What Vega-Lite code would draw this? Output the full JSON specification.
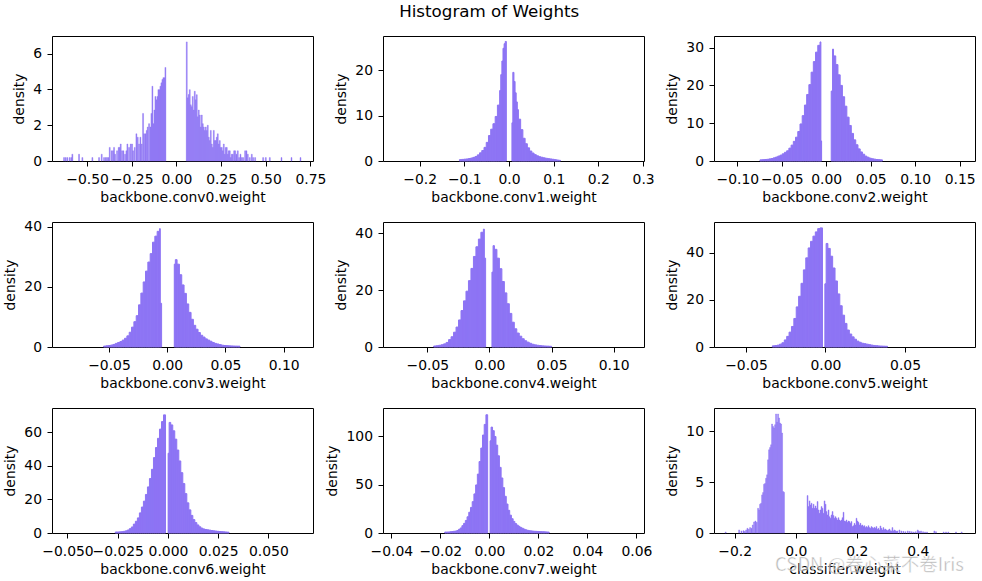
{
  "$schema": "https://vega.github.io/schema/vega-lite/v6.json",
  "background": "white",
  "padding": {"left": 2, "top": 4, "right": 5, "bottom": 5},
  "title": {"text": "Histogram of Weights", "anchor": "middle", "fontSize": 16.7, "fontWeight": "normal", "color": "#000000", "font": "DejaVu Sans", "offset": 14.5},
  "columns": 3,
  "bounds": "flush",
  "spacing": {"row": 61, "column": 70},
  "datasets": {
    "c0": [
      {"x0":-0.6314,"x1":-0.6260,"y":0.19},{"x0":-0.6221,"x1":-0.6167,"y":0.19},{"x0":-0.6128,"x1":-0.6074,"y":0.19},{"x0":-0.5997,"x1":-0.5943,"y":0.19},{"x0":-0.5904,"x1":-0.5850,"y":0.19},{"x0":-0.5848,"x1":-0.5794,"y":0.38},{"x0":-0.5475,"x1":-0.5421,"y":0.38},{"x0":-0.5288,"x1":-0.5234,"y":0.19},{"x0":-0.4728,"x1":-0.4674,"y":0.19},{"x0":-0.4355,"x1":-0.4301,"y":0.19},{"x0":-0.4206,"x1":-0.4152,"y":0.38},{"x0":-0.4076,"x1":-0.4022,"y":0.19},{"x0":-0.3982,"x1":-0.3928,"y":0.19},{"x0":-0.3908,"x1":-0.3854,"y":0.19},{"x0":-0.3833,"x1":-0.3779,"y":0.19},{"x0":-0.3758,"x1":-0.3704,"y":0.76},{"x0":-0.3646,"x1":-0.3592,"y":0.57},{"x0":-0.3572,"x1":-0.3518,"y":0.57},{"x0":-0.3516,"x1":-0.3462,"y":0.76},{"x0":-0.3460,"x1":-0.3406,"y":0.38},{"x0":-0.3348,"x1":-0.3294,"y":0.57},{"x0":-0.3255,"x1":-0.3201,"y":0.76},{"x0":-0.3199,"x1":-0.3145,"y":0.76},{"x0":-0.3143,"x1":-0.3089,"y":0.95},{"x0":-0.3068,"x1":-0.3014,"y":0.57},{"x0":-0.2993,"x1":-0.2939,"y":0.57},{"x0":-0.2900,"x1":-0.2846,"y":0.38},{"x0":-0.2826,"x1":-0.2772,"y":0.57},{"x0":-0.2770,"x1":-0.2716,"y":0.95},{"x0":-0.2676,"x1":-0.2622,"y":0.76},{"x0":-0.2583,"x1":-0.2529,"y":0.95},{"x0":-0.2508,"x1":-0.2454,"y":0.95},{"x0":-0.2452,"x1":-0.2398,"y":0.57},{"x0":-0.2359,"x1":-0.2305,"y":0.76},{"x0":-0.2266,"x1":-0.2212,"y":1.52},{"x0":-0.2191,"x1":-0.2137,"y":1.33},{"x0":-0.2117,"x1":-0.2063,"y":0.95},{"x0":-0.2042,"x1":-0.1988,"y":1.33},{"x0":-0.1967,"x1":-0.1913,"y":0.95},{"x0":-0.1893,"x1":-0.1839,"y":2.66},{"x0":-0.1837,"x1":-0.1783,"y":1.52},{"x0":-0.1762,"x1":-0.1708,"y":1.52},{"x0":-0.1687,"x1":-0.1633,"y":1.71},{"x0":-0.1631,"x1":-0.1577,"y":1.90},{"x0":-0.1557,"x1":-0.1503,"y":2.09},{"x0":-0.1482,"x1":-0.1428,"y":1.90},{"x0":-0.1426,"x1":-0.1372,"y":2.66},{"x0":-0.1370,"x1":-0.1316,"y":4.18},{"x0":-0.1314,"x1":-0.1260,"y":2.09},{"x0":-0.1258,"x1":-0.1204,"y":2.85},{"x0":-0.1202,"x1":-0.1148,"y":3.61},{"x0":-0.1146,"x1":-0.1092,"y":3.42},{"x0":-0.1090,"x1":-0.1036,"y":3.61},{"x0":-0.1034,"x1":-0.0980,"y":3.99},{"x0":-0.0978,"x1":-0.0924,"y":3.99},{"x0":-0.0923,"x1":-0.0869,"y":4.18},{"x0":-0.0867,"x1":-0.0813,"y":4.37},{"x0":-0.0811,"x1":-0.0757,"y":4.56},{"x0":-0.0755,"x1":-0.0701,"y":4.66},{"x0":-0.0699,"x1":-0.0645,"y":4.66},{"x0":-0.0643,"x1":-0.0589,"y":5.23},
      {"x0":0.0551,"x1":0.0605,"y":6.66},{"x0":0.0607,"x1":0.0661,"y":3.53},{"x0":0.0663,"x1":0.0717,"y":3.72},{"x0":0.0719,"x1":0.0773,"y":3.99},{"x0":0.0775,"x1":0.0829,"y":3.14},{"x0":0.0831,"x1":0.0885,"y":3.04},{"x0":0.0887,"x1":0.0941,"y":3.61},{"x0":0.0943,"x1":0.0997,"y":2.85},{"x0":0.0999,"x1":0.1053,"y":3.90},{"x0":0.1055,"x1":0.1109,"y":3.42},{"x0":0.1111,"x1":0.1165,"y":3.71},{"x0":0.1167,"x1":0.1221,"y":2.47},{"x0":0.1223,"x1":0.1277,"y":2.85},{"x0":0.1279,"x1":0.1333,"y":2.57},{"x0":0.1335,"x1":0.1389,"y":1.90},{"x0":0.1391,"x1":0.1445,"y":2.57},{"x0":0.1447,"x1":0.1501,"y":2.09},{"x0":0.1503,"x1":0.1557,"y":1.90},{"x0":0.1559,"x1":0.1613,"y":1.71},{"x0":0.1615,"x1":0.1669,"y":1.90},{"x0":0.1671,"x1":0.1725,"y":1.71},{"x0":0.1727,"x1":0.1781,"y":2.00},{"x0":0.1783,"x1":0.1837,"y":1.33},{"x0":0.1839,"x1":0.1893,"y":1.14},{"x0":0.1895,"x1":0.1949,"y":1.71},{"x0":0.1951,"x1":0.2005,"y":0.95},{"x0":0.2007,"x1":0.2061,"y":0.76},{"x0":0.2063,"x1":0.2117,"y":1.71},{"x0":0.2119,"x1":0.2173,"y":1.14},{"x0":0.2174,"x1":0.2228,"y":1.14},{"x0":0.2230,"x1":0.2284,"y":1.33},{"x0":0.2286,"x1":0.2340,"y":1.52},{"x0":0.2342,"x1":0.2396,"y":0.95},{"x0":0.2398,"x1":0.2452,"y":1.14},{"x0":0.2454,"x1":0.2508,"y":0.76},{"x0":0.2510,"x1":0.2564,"y":0.76},{"x0":0.2566,"x1":0.2620,"y":0.57},{"x0":0.2622,"x1":0.2676,"y":0.95},{"x0":0.2678,"x1":0.2732,"y":0.38},{"x0":0.2734,"x1":0.2788,"y":0.76},{"x0":0.2790,"x1":0.2844,"y":0.76},{"x0":0.2846,"x1":0.2900,"y":0.38},{"x0":0.2902,"x1":0.2956,"y":0.57},{"x0":0.2958,"x1":0.3012,"y":0.57},{"x0":0.3014,"x1":0.3068,"y":0.19},{"x0":0.3070,"x1":0.3124,"y":0.38},{"x0":0.3126,"x1":0.3180,"y":0.38},{"x0":0.3201,"x1":0.3255,"y":0.57},{"x0":0.3257,"x1":0.3311,"y":0.57},{"x0":0.3331,"x1":0.3385,"y":0.38},{"x0":0.3406,"x1":0.3460,"y":0.57},{"x0":0.3480,"x1":0.3534,"y":0.19},{"x0":0.3555,"x1":0.3609,"y":0.38},{"x0":0.3630,"x1":0.3684,"y":0.19},{"x0":0.3704,"x1":0.3758,"y":0.19},{"x0":0.3816,"x1":0.3870,"y":0.57},{"x0":0.3891,"x1":0.3945,"y":0.57},{"x0":0.3966,"x1":0.4020,"y":0.38},{"x0":0.4077,"x1":0.4131,"y":0.19},{"x0":0.4189,"x1":0.4243,"y":0.38},{"x0":0.4264,"x1":0.4318,"y":0.19},{"x0":0.4376,"x1":0.4430,"y":0.19},{"x0":0.4824,"x1":0.4878,"y":0.19},{"x0":0.4973,"x1":0.5027,"y":0.19},{"x0":0.5197,"x1":0.5251,"y":0.19},{"x0":0.5850,"x1":0.5904,"y":0.19},{"x0":0.6410,"x1":0.6464,"y":0.19},{"x0":0.6913,"x1":0.6967,"y":0.19}
    ],
    "c1": [
      {"x0":-0.111,"x1":-0.106,"y":0.3},{"x0":-0.106,"x1":-0.101,"y":0.35},{"x0":-0.101,"x1":-0.096,"y":0.4},{"x0":-0.096,"x1":-0.091,"y":0.45},{"x0":-0.091,"x1":-0.086,"y":0.55},{"x0":-0.086,"x1":-0.081,"y":0.65},{"x0":-0.081,"x1":-0.076,"y":0.8},{"x0":-0.076,"x1":-0.071,"y":1.0},{"x0":-0.071,"x1":-0.066,"y":1.35},{"x0":-0.066,"x1":-0.061,"y":1.8},{"x0":-0.061,"x1":-0.056,"y":2.3},{"x0":-0.056,"x1":-0.051,"y":3.0},{"x0":-0.051,"x1":-0.046,"y":4.1},{"x0":-0.046,"x1":-0.041,"y":5.6},{"x0":-0.041,"x1":-0.036,"y":7.0},{"x0":-0.036,"x1":-0.031,"y":8.2},{"x0":-0.031,"x1":-0.026,"y":9.8},{"x0":-0.026,"x1":-0.021,"y":12.3},{"x0":-0.021,"x1":-0.0185,"y":15.5},{"x0":-0.0185,"x1":-0.016,"y":19.0},{"x0":-0.016,"x1":-0.0135,"y":22.0},{"x0":-0.0135,"x1":-0.011,"y":24.8},{"x0":-0.011,"x1":-0.0085,"y":25.8},{"x0":-0.0085,"x1":-0.006,"y":26.3},
      {"x0":0.0065,"x1":0.0085,"y":8.4},{"x0":0.0085,"x1":0.011,"y":19.5},{"x0":0.011,"x1":0.0135,"y":17.5},{"x0":0.0135,"x1":0.016,"y":15.0},{"x0":0.016,"x1":0.0185,"y":13.0},{"x0":0.0185,"x1":0.021,"y":11.3},{"x0":0.021,"x1":0.026,"y":9.2},{"x0":0.026,"x1":0.031,"y":6.9},{"x0":0.031,"x1":0.036,"y":5.0},{"x0":0.036,"x1":0.041,"y":3.8},{"x0":0.041,"x1":0.046,"y":2.9},{"x0":0.046,"x1":0.051,"y":2.2},{"x0":0.051,"x1":0.056,"y":1.75},{"x0":0.056,"x1":0.061,"y":1.4},{"x0":0.061,"x1":0.066,"y":1.15},{"x0":0.066,"x1":0.071,"y":0.95},{"x0":0.071,"x1":0.076,"y":0.82},{"x0":0.076,"x1":0.081,"y":0.7},{"x0":0.081,"x1":0.086,"y":0.6},{"x0":0.086,"x1":0.091,"y":0.52},{"x0":0.091,"x1":0.096,"y":0.45},{"x0":0.096,"x1":0.101,"y":0.38},{"x0":0.101,"x1":0.106,"y":0.3},{"x0":0.106,"x1":0.111,"y":0.22},{"x0":0.111,"x1":0.115,"y":0.15}
    ],
    "c2": [
      {"x0":-0.0745,"x1":-0.0720,"y":0.3},{"x0":-0.0720,"x1":-0.0695,"y":0.35},{"x0":-0.0695,"x1":-0.0670,"y":0.4},{"x0":-0.0670,"x1":-0.0645,"y":0.45},{"x0":-0.0645,"x1":-0.0620,"y":0.55},{"x0":-0.0620,"x1":-0.0595,"y":0.65},{"x0":-0.0595,"x1":-0.0570,"y":0.85},{"x0":-0.0570,"x1":-0.0545,"y":1.05},{"x0":-0.0545,"x1":-0.0520,"y":1.3},{"x0":-0.0520,"x1":-0.0495,"y":1.55},{"x0":-0.0495,"x1":-0.0470,"y":1.9},{"x0":-0.0470,"x1":-0.0445,"y":2.3},{"x0":-0.0445,"x1":-0.0420,"y":2.7},{"x0":-0.0420,"x1":-0.0395,"y":3.4},{"x0":-0.0395,"x1":-0.0370,"y":4.2},{"x0":-0.0370,"x1":-0.0345,"y":5.2},{"x0":-0.0345,"x1":-0.0320,"y":6.3},{"x0":-0.0320,"x1":-0.0295,"y":7.8},{"x0":-0.0295,"x1":-0.0270,"y":9.8},{"x0":-0.0270,"x1":-0.0245,"y":12.0},{"x0":-0.0245,"x1":-0.0220,"y":14.8},{"x0":-0.0220,"x1":-0.0195,"y":17.6},{"x0":-0.0195,"x1":-0.0170,"y":20.2},{"x0":-0.0170,"x1":-0.0145,"y":23.5},{"x0":-0.0145,"x1":-0.0120,"y":26.3},{"x0":-0.0120,"x1":-0.0095,"y":28.8},{"x0":-0.0095,"x1":-0.0070,"y":30.6},{"x0":-0.0070,"x1":-0.0060,"y":31.5},{"x0":-0.0060,"x1":-0.0052,"y":5.3},
      {"x0":0.0056,"x1":0.0071,"y":18.5},{"x0":0.0071,"x1":0.0082,"y":29.6},{"x0":0.0082,"x1":0.0107,"y":27.8},{"x0":0.0107,"x1":0.0132,"y":25.5},{"x0":0.0132,"x1":0.0157,"y":22.8},{"x0":0.0157,"x1":0.0182,"y":20.0},{"x0":0.0182,"x1":0.0207,"y":17.0},{"x0":0.0207,"x1":0.0232,"y":14.5},{"x0":0.0232,"x1":0.0257,"y":11.6},{"x0":0.0257,"x1":0.0282,"y":9.4},{"x0":0.0282,"x1":0.0307,"y":7.3},{"x0":0.0307,"x1":0.0332,"y":5.6},{"x0":0.0332,"x1":0.0357,"y":4.3},{"x0":0.0357,"x1":0.0382,"y":3.2},{"x0":0.0382,"x1":0.0407,"y":2.4},{"x0":0.0407,"x1":0.0432,"y":1.8},{"x0":0.0432,"x1":0.0457,"y":1.3},{"x0":0.0457,"x1":0.0482,"y":1.0},{"x0":0.0482,"x1":0.0507,"y":0.75},{"x0":0.0507,"x1":0.0532,"y":0.6},{"x0":0.0532,"x1":0.0557,"y":0.5},{"x0":0.0557,"x1":0.0582,"y":0.4},{"x0":0.0582,"x1":0.0607,"y":0.35},{"x0":0.0607,"x1":0.0632,"y":0.3}
    ],
    "c3": [
      {"x0":-0.0546,"x1":-0.0526,"y":0.3},{"x0":-0.0526,"x1":-0.0506,"y":0.4},{"x0":-0.0506,"x1":-0.0486,"y":0.5},{"x0":-0.0486,"x1":-0.0466,"y":0.65},{"x0":-0.0466,"x1":-0.0446,"y":0.85},{"x0":-0.0446,"x1":-0.0426,"y":1.2},{"x0":-0.0426,"x1":-0.0406,"y":1.5},{"x0":-0.0406,"x1":-0.0386,"y":1.8},{"x0":-0.0386,"x1":-0.0366,"y":2.3},{"x0":-0.0366,"x1":-0.0346,"y":2.9},{"x0":-0.0346,"x1":-0.0326,"y":3.7},{"x0":-0.0326,"x1":-0.0306,"y":4.9},{"x0":-0.0306,"x1":-0.0286,"y":6.6},{"x0":-0.0286,"x1":-0.0266,"y":8.4},{"x0":-0.0266,"x1":-0.0246,"y":10.4},{"x0":-0.0246,"x1":-0.0226,"y":14.0},{"x0":-0.0226,"x1":-0.0206,"y":17.9},{"x0":-0.0206,"x1":-0.0186,"y":21.6},{"x0":-0.0186,"x1":-0.0166,"y":25.2},{"x0":-0.0166,"x1":-0.0146,"y":28.2},{"x0":-0.0146,"x1":-0.0126,"y":31.0},{"x0":-0.0126,"x1":-0.0106,"y":34.8},{"x0":-0.0106,"x1":-0.0086,"y":36.8},{"x0":-0.0086,"x1":-0.0066,"y":38.4},{"x0":-0.0066,"x1":-0.0059,"y":39.3},{"x0":-0.0059,"x1":-0.0048,"y":14.5},
      {"x0":0.0061,"x1":0.0070,"y":27.5},{"x0":0.0070,"x1":0.0085,"y":29.0},{"x0":0.0085,"x1":0.0105,"y":27.5},{"x0":0.0105,"x1":0.0125,"y":24.0},{"x0":0.0125,"x1":0.0145,"y":20.6},{"x0":0.0145,"x1":0.0165,"y":17.8},{"x0":0.0165,"x1":0.0185,"y":14.3},{"x0":0.0185,"x1":0.0205,"y":11.5},{"x0":0.0205,"x1":0.0225,"y":9.2},{"x0":0.0225,"x1":0.0245,"y":7.2},{"x0":0.0245,"x1":0.0265,"y":5.9},{"x0":0.0265,"x1":0.0285,"y":4.8},{"x0":0.0285,"x1":0.0305,"y":3.9},{"x0":0.0305,"x1":0.0325,"y":3.3},{"x0":0.0325,"x1":0.0345,"y":2.7},{"x0":0.0345,"x1":0.0365,"y":2.3},{"x0":0.0365,"x1":0.0385,"y":1.9},{"x0":0.0385,"x1":0.0405,"y":1.5},{"x0":0.0405,"x1":0.0425,"y":1.2},{"x0":0.0425,"x1":0.0445,"y":1.0},{"x0":0.0445,"x1":0.0465,"y":0.8},{"x0":0.0465,"x1":0.0485,"y":0.6},{"x0":0.0485,"x1":0.0505,"y":0.5},{"x0":0.0505,"x1":0.0525,"y":0.45},{"x0":0.0525,"x1":0.0545,"y":0.4},{"x0":0.0545,"x1":0.0565,"y":0.35},{"x0":0.0565,"x1":0.0585,"y":0.32},{"x0":0.0585,"x1":0.0605,"y":0.3},{"x0":0.0605,"x1":0.0625,"y":0.28}
    ],
    "c4": [
      {"x0":-0.0449,"x1":-0.0429,"y":0.35},{"x0":-0.0429,"x1":-0.0409,"y":0.45},{"x0":-0.0409,"x1":-0.0389,"y":0.6},{"x0":-0.0389,"x1":-0.0369,"y":0.8},{"x0":-0.0369,"x1":-0.0349,"y":1.1},{"x0":-0.0349,"x1":-0.0329,"y":1.6},{"x0":-0.0329,"x1":-0.0309,"y":2.6},{"x0":-0.0309,"x1":-0.0289,"y":3.6},{"x0":-0.0289,"x1":-0.0269,"y":5.2},{"x0":-0.0269,"x1":-0.0249,"y":7.0},{"x0":-0.0249,"x1":-0.0229,"y":9.5},{"x0":-0.0229,"x1":-0.0209,"y":12.8},{"x0":-0.0209,"x1":-0.0189,"y":16.2},{"x0":-0.0189,"x1":-0.0169,"y":19.6},{"x0":-0.0169,"x1":-0.0149,"y":23.3},{"x0":-0.0149,"x1":-0.0129,"y":27.6},{"x0":-0.0129,"x1":-0.0109,"y":31.8},{"x0":-0.0109,"x1":-0.0089,"y":35.2},{"x0":-0.0089,"x1":-0.0069,"y":37.9},{"x0":-0.0069,"x1":-0.0049,"y":40.3},{"x0":-0.0049,"x1":-0.0041,"y":41.4},{"x0":-0.0041,"x1":-0.0031,"y":31.2},
      {"x0":0.0020,"x1":0.0029,"y":26.3},{"x0":0.0029,"x1":0.0040,"y":35.6},{"x0":0.0040,"x1":0.0060,"y":34.3},{"x0":0.0060,"x1":0.0080,"y":31.2},{"x0":0.0080,"x1":0.0100,"y":27.5},{"x0":0.0100,"x1":0.0120,"y":23.0},{"x0":0.0120,"x1":0.0140,"y":19.0},{"x0":0.0140,"x1":0.0160,"y":15.2},{"x0":0.0160,"x1":0.0180,"y":11.8},{"x0":0.0180,"x1":0.0200,"y":8.7},{"x0":0.0200,"x1":0.0220,"y":6.4},{"x0":0.0220,"x1":0.0240,"y":4.9},{"x0":0.0240,"x1":0.0260,"y":3.8},{"x0":0.0260,"x1":0.0280,"y":2.9},{"x0":0.0280,"x1":0.0300,"y":2.2},{"x0":0.0300,"x1":0.0320,"y":1.7},{"x0":0.0320,"x1":0.0340,"y":1.3},{"x0":0.0340,"x1":0.0360,"y":0.95},{"x0":0.0360,"x1":0.0380,"y":0.75},{"x0":0.0380,"x1":0.0400,"y":0.6},{"x0":0.0400,"x1":0.0420,"y":0.5},{"x0":0.0420,"x1":0.0440,"y":0.4},{"x0":0.0440,"x1":0.0460,"y":0.35},{"x0":0.0460,"x1":0.0480,"y":0.3},{"x0":0.0480,"x1":0.0500,"y":0.25}
    ],
    "c5": [
      {"x0":-0.0334,"x1":-0.0319,"y":0.5},{"x0":-0.0319,"x1":-0.0304,"y":0.6},{"x0":-0.0304,"x1":-0.0289,"y":0.8},{"x0":-0.0289,"x1":-0.0274,"y":1.2},{"x0":-0.0274,"x1":-0.0259,"y":1.8},{"x0":-0.0259,"x1":-0.0244,"y":3.0},{"x0":-0.0244,"x1":-0.0229,"y":4.5},{"x0":-0.0229,"x1":-0.0214,"y":6.3},{"x0":-0.0214,"x1":-0.0199,"y":8.7},{"x0":-0.0199,"x1":-0.0184,"y":12.1},{"x0":-0.0184,"x1":-0.0169,"y":17.0},{"x0":-0.0169,"x1":-0.0154,"y":21.5},{"x0":-0.0154,"x1":-0.0139,"y":27.0},{"x0":-0.0139,"x1":-0.0124,"y":32.7},{"x0":-0.0124,"x1":-0.0109,"y":37.8},{"x0":-0.0109,"x1":-0.0094,"y":42.0},{"x0":-0.0094,"x1":-0.0079,"y":44.8},{"x0":-0.0079,"x1":-0.0064,"y":47.0},{"x0":-0.0064,"x1":-0.0049,"y":48.8},{"x0":-0.0049,"x1":-0.0034,"y":50.2},{"x0":-0.0034,"x1":-0.0019,"y":50.5},
      {"x0":-0.0004,"x1":0.0004,"y":26.8},{"x0":0.0004,"x1":0.0015,"y":43.9},{"x0":0.0015,"x1":0.0030,"y":41.8},{"x0":0.0030,"x1":0.0045,"y":38.5},{"x0":0.0045,"x1":0.0060,"y":33.5},{"x0":0.0060,"x1":0.0075,"y":28.0},{"x0":0.0075,"x1":0.0090,"y":22.5},{"x0":0.0090,"x1":0.0105,"y":17.5},{"x0":0.0105,"x1":0.0120,"y":13.5},{"x0":0.0120,"x1":0.0135,"y":10.0},{"x0":0.0135,"x1":0.0150,"y":7.2},{"x0":0.0150,"x1":0.0165,"y":5.5},{"x0":0.0165,"x1":0.0180,"y":4.3},{"x0":0.0180,"x1":0.0195,"y":3.3},{"x0":0.0195,"x1":0.0210,"y":2.5},{"x0":0.0210,"x1":0.0225,"y":2.0},{"x0":0.0225,"x1":0.0240,"y":1.6},{"x0":0.0240,"x1":0.0255,"y":1.4},{"x0":0.0255,"x1":0.0270,"y":1.2},{"x0":0.0270,"x1":0.0285,"y":1.0},{"x0":0.0285,"x1":0.0300,"y":0.8},{"x0":0.0300,"x1":0.0315,"y":0.65},{"x0":0.0315,"x1":0.0330,"y":0.55},{"x0":0.0330,"x1":0.0345,"y":0.45},{"x0":0.0345,"x1":0.0360,"y":0.4},{"x0":0.0360,"x1":0.0375,"y":0.35},{"x0":0.0375,"x1":0.0390,"y":0.3}
    ],
    "c6": [
      {"x0":-0.0262,"x1":-0.0252,"y":0.6},{"x0":-0.0252,"x1":-0.0242,"y":0.6},{"x0":-0.0242,"x1":-0.0232,"y":0.7},{"x0":-0.0232,"x1":-0.0222,"y":0.8},{"x0":-0.0222,"x1":-0.0212,"y":1.0},{"x0":-0.0212,"x1":-0.0202,"y":1.3},{"x0":-0.0202,"x1":-0.0192,"y":1.8},{"x0":-0.0192,"x1":-0.0182,"y":2.6},{"x0":-0.0182,"x1":-0.0172,"y":3.6},{"x0":-0.0172,"x1":-0.0162,"y":5.3},{"x0":-0.0162,"x1":-0.0152,"y":7.0},{"x0":-0.0152,"x1":-0.0142,"y":9.0},{"x0":-0.0142,"x1":-0.0132,"y":12.0},{"x0":-0.0132,"x1":-0.0122,"y":15.5},{"x0":-0.0122,"x1":-0.0112,"y":19.0},{"x0":-0.0112,"x1":-0.0102,"y":23.0},{"x0":-0.0102,"x1":-0.0092,"y":27.5},{"x0":-0.0092,"x1":-0.0082,"y":32.5},{"x0":-0.0082,"x1":-0.0072,"y":38.0},{"x0":-0.0072,"x1":-0.0062,"y":45.0},{"x0":-0.0062,"x1":-0.0052,"y":51.0},{"x0":-0.0052,"x1":-0.0042,"y":56.5},{"x0":-0.0042,"x1":-0.0032,"y":62.0},{"x0":-0.0032,"x1":-0.0022,"y":66.5},{"x0":-0.0022,"x1":-0.0012,"y":70.5},
      {"x0":0.0001,"x1":0.0006,"y":47.6},{"x0":0.0006,"x1":0.0014,"y":66.0},{"x0":0.0014,"x1":0.0024,"y":64.5},{"x0":0.0024,"x1":0.0034,"y":61.0},{"x0":0.0034,"x1":0.0044,"y":56.0},{"x0":0.0044,"x1":0.0054,"y":49.5},{"x0":0.0054,"x1":0.0064,"y":43.0},{"x0":0.0064,"x1":0.0074,"y":36.0},{"x0":0.0074,"x1":0.0084,"y":29.5},{"x0":0.0084,"x1":0.0094,"y":23.5},{"x0":0.0094,"x1":0.0104,"y":18.0},{"x0":0.0104,"x1":0.0114,"y":13.8},{"x0":0.0114,"x1":0.0124,"y":10.5},{"x0":0.0124,"x1":0.0134,"y":8.0},{"x0":0.0134,"x1":0.0144,"y":6.2},{"x0":0.0144,"x1":0.0154,"y":4.8},{"x0":0.0154,"x1":0.0164,"y":3.7},{"x0":0.0164,"x1":0.0174,"y":2.9},{"x0":0.0174,"x1":0.0184,"y":2.4},{"x0":0.0184,"x1":0.0194,"y":2.1},{"x0":0.0194,"x1":0.0204,"y":1.9},{"x0":0.0204,"x1":0.0214,"y":1.7},{"x0":0.0214,"x1":0.0224,"y":1.5},{"x0":0.0224,"x1":0.0234,"y":1.3},{"x0":0.0234,"x1":0.0244,"y":1.15},{"x0":0.0244,"x1":0.0254,"y":1.0},{"x0":0.0254,"x1":0.0264,"y":0.9},{"x0":0.0264,"x1":0.0274,"y":0.8},{"x0":0.0274,"x1":0.0284,"y":0.7},{"x0":0.0284,"x1":0.0294,"y":0.6},{"x0":0.0294,"x1":0.0304,"y":0.5}
    ],
    "c7": [
      {"x0":-0.0182,"x1":-0.0175,"y":1.0},{"x0":-0.0175,"x1":-0.0168,"y":1.0},{"x0":-0.0168,"x1":-0.0161,"y":1.1},{"x0":-0.0161,"x1":-0.0154,"y":1.3},{"x0":-0.0154,"x1":-0.0147,"y":1.5},{"x0":-0.0147,"x1":-0.0140,"y":1.8},{"x0":-0.0140,"x1":-0.0133,"y":2.0},{"x0":-0.0133,"x1":-0.0126,"y":2.6},{"x0":-0.0126,"x1":-0.0119,"y":3.8},{"x0":-0.0119,"x1":-0.0112,"y":5.2},{"x0":-0.0112,"x1":-0.0105,"y":7.6},{"x0":-0.0105,"x1":-0.0098,"y":10.0},{"x0":-0.0098,"x1":-0.0091,"y":13.0},{"x0":-0.0091,"x1":-0.0084,"y":16.8},{"x0":-0.0084,"x1":-0.0077,"y":21.5},{"x0":-0.0077,"x1":-0.0070,"y":26.5},{"x0":-0.0070,"x1":-0.0063,"y":32.5},{"x0":-0.0063,"x1":-0.0056,"y":40.5},{"x0":-0.0056,"x1":-0.0049,"y":49.8},{"x0":-0.0049,"x1":-0.0042,"y":61.0},{"x0":-0.0042,"x1":-0.0035,"y":74.0},{"x0":-0.0035,"x1":-0.0028,"y":88.0},{"x0":-0.0028,"x1":-0.0021,"y":101.5},{"x0":-0.0021,"x1":-0.0014,"y":112.5},{"x0":-0.0014,"x1":-0.0007,"y":122.5},
      {"x0":0.0003,"x1":0.0007,"y":95.5},{"x0":0.0007,"x1":0.0013,"y":109.7},{"x0":0.0013,"x1":0.0020,"y":106.0},{"x0":0.0020,"x1":0.0027,"y":100.0},{"x0":0.0027,"x1":0.0034,"y":91.0},{"x0":0.0034,"x1":0.0041,"y":80.0},{"x0":0.0041,"x1":0.0048,"y":68.0},{"x0":0.0048,"x1":0.0055,"y":57.0},{"x0":0.0055,"x1":0.0062,"y":47.0},{"x0":0.0062,"x1":0.0069,"y":38.0},{"x0":0.0069,"x1":0.0076,"y":30.0},{"x0":0.0076,"x1":0.0083,"y":23.5},{"x0":0.0083,"x1":0.0090,"y":18.5},{"x0":0.0090,"x1":0.0097,"y":14.8},{"x0":0.0097,"x1":0.0104,"y":12.0},{"x0":0.0104,"x1":0.0111,"y":9.8},{"x0":0.0111,"x1":0.0118,"y":8.2},{"x0":0.0118,"x1":0.0125,"y":6.9},{"x0":0.0125,"x1":0.0132,"y":5.8},{"x0":0.0132,"x1":0.0139,"y":4.9},{"x0":0.0139,"x1":0.0146,"y":4.0},{"x0":0.0146,"x1":0.0153,"y":3.3},{"x0":0.0153,"x1":0.0160,"y":2.8},{"x0":0.0160,"x1":0.0167,"y":2.4},{"x0":0.0167,"x1":0.0174,"y":2.2},{"x0":0.0174,"x1":0.0181,"y":2.0},{"x0":0.0181,"x1":0.0188,"y":1.8},{"x0":0.0188,"x1":0.0195,"y":1.7},{"x0":0.0195,"x1":0.0202,"y":1.6},{"x0":0.0202,"x1":0.0209,"y":1.5},{"x0":0.0209,"x1":0.0216,"y":1.4},{"x0":0.0216,"x1":0.0223,"y":1.3},{"x0":0.0223,"x1":0.0230,"y":1.2},{"x0":0.0230,"x1":0.0237,"y":1.1},{"x0":0.0237,"x1":0.0244,"y":1.0}
    ],
    "cl": [
      {"x0":-0.2311,"x1":-0.2279,"y":0.10},{"x0":-0.1869,"x1":-0.1837,"y":0.30},{"x0":-0.1793,"x1":-0.1761,"y":0.20},{"x0":-0.1727,"x1":-0.1695,"y":0.23},{"x0":-0.1684,"x1":-0.1652,"y":0.16},{"x0":-0.1640,"x1":-0.1608,"y":0.30},{"x0":-0.1597,"x1":-0.1565,"y":0.46},{"x0":-0.1553,"x1":-0.1521,"y":0.36},{"x0":-0.1510,"x1":-0.1478,"y":0.53},{"x0":-0.1466,"x1":-0.1434,"y":0.46},{"x0":-0.1422,"x1":-0.1390,"y":0.79},{"x0":-0.1379,"x1":-0.1347,"y":1.09},{"x0":-0.1335,"x1":-0.1303,"y":1.18},{"x0":-0.1292,"x1":-0.1260,"y":1.05},{"x0":-0.1248,"x1":-0.1216,"y":2.43},{"x0":-0.1215,"x1":-0.1183,"y":2.27},{"x0":-0.1183,"x1":-0.1151,"y":2.83},{"x0":-0.1150,"x1":-0.1118,"y":2.93},{"x0":-0.1117,"x1":-0.1085,"y":3.75},{"x0":-0.1084,"x1":-0.1052,"y":3.98},{"x0":-0.1052,"x1":-0.1020,"y":4.80},{"x0":-0.1019,"x1":-0.0987,"y":4.87},{"x0":-0.0986,"x1":-0.0954,"y":5.39},{"x0":-0.0953,"x1":-0.0921,"y":5.72},{"x0":-0.0921,"x1":-0.0889,"y":7.20},{"x0":-0.0888,"x1":-0.0856,"y":8.19},{"x0":-0.0855,"x1":-0.0823,"y":8.42},{"x0":-0.0822,"x1":-0.0790,"y":8.68},{"x0":-0.0790,"x1":-0.0758,"y":10.72},{"x0":-0.0757,"x1":-0.0725,"y":10.49},{"x0":-0.0724,"x1":-0.0692,"y":10.33},{"x0":-0.0691,"x1":-0.0659,"y":10.66},{"x0":-0.0659,"x1":-0.0627,"y":11.71},{"x0":-0.0626,"x1":-0.0594,"y":10.92},{"x0":-0.0593,"x1":-0.0561,"y":11.71},{"x0":-0.0560,"x1":-0.0528,"y":11.32},{"x0":-0.0528,"x1":-0.0496,"y":10.82},{"x0":-0.0495,"x1":-0.0463,"y":10.72},{"x0":-0.0462,"x1":-0.0430,"y":9.84},{"x0":-0.0429,"x1":-0.0397,"y":4.08},{"x0":-0.0397,"x1":-0.0368,"y":4.01},
      {"x0":0.0373,"x1":0.0405,"y":3.68},{"x0":0.0406,"x1":0.0438,"y":2.60},{"x0":0.0439,"x1":0.0471,"y":3.16},{"x0":0.0472,"x1":0.0504,"y":2.76},{"x0":0.0504,"x1":0.0536,"y":2.93},{"x0":0.0537,"x1":0.0569,"y":2.43},{"x0":0.0570,"x1":0.0602,"y":2.83},{"x0":0.0603,"x1":0.0635,"y":2.43},{"x0":0.0635,"x1":0.0667,"y":2.66},{"x0":0.0668,"x1":0.0700,"y":2.43},{"x0":0.0701,"x1":0.0733,"y":3.09},{"x0":0.0734,"x1":0.0766,"y":2.27},{"x0":0.0766,"x1":0.0798,"y":1.94},{"x0":0.0799,"x1":0.0831,"y":2.27},{"x0":0.0832,"x1":0.0864,"y":2.60},{"x0":0.0864,"x1":0.0896,"y":2.43},{"x0":0.0897,"x1":0.0929,"y":1.94},{"x0":0.0930,"x1":0.0962,"y":3.16},{"x0":0.0963,"x1":0.0995,"y":2.83},{"x0":0.0995,"x1":0.1027,"y":2.11},{"x0":0.1028,"x1":0.1060,"y":1.78},{"x0":0.1061,"x1":0.1093,"y":2.27},{"x0":0.1094,"x1":0.1126,"y":1.61},{"x0":0.1126,"x1":0.1158,"y":1.45},{"x0":0.1159,"x1":0.1191,"y":1.78},{"x0":0.1192,"x1":0.1224,"y":2.11},{"x0":0.1225,"x1":0.1257,"y":1.71},{"x0":0.1257,"x1":0.1289,"y":1.45},{"x0":0.1290,"x1":0.1322,"y":1.61},{"x0":0.1323,"x1":0.1355,"y":1.45},{"x0":0.1355,"x1":0.1387,"y":1.28},{"x0":0.1388,"x1":0.1420,"y":1.51},{"x0":0.1421,"x1":0.1453,"y":1.28},{"x0":0.1454,"x1":0.1486,"y":1.18},{"x0":0.1486,"x1":0.1518,"y":1.28},{"x0":0.1519,"x1":0.1551,"y":1.51},{"x0":0.1552,"x1":0.1584,"y":2.04},{"x0":0.1584,"x1":0.1616,"y":1.18},{"x0":0.1617,"x1":0.1649,"y":1.12},{"x0":0.1650,"x1":0.1682,"y":1.28},{"x0":0.1683,"x1":0.1715,"y":1.05},{"x0":0.1715,"x1":0.1747,"y":1.18},{"x0":0.1748,"x1":0.1780,"y":1.12},{"x0":0.1781,"x1":0.1813,"y":0.95},{"x0":0.1813,"x1":0.1845,"y":1.12},{"x0":0.1846,"x1":0.1878,"y":0.63},{"x0":0.1879,"x1":0.1911,"y":0.72},{"x0":0.1912,"x1":0.1944,"y":0.95},{"x0":0.1944,"x1":0.1976,"y":0.79},{"x0":0.1977,"x1":0.2009,"y":1.45},{"x0":0.2010,"x1":0.2042,"y":1.18},{"x0":0.2042,"x1":0.2074,"y":1.05},{"x0":0.2075,"x1":0.2107,"y":0.79},{"x0":0.2108,"x1":0.2140,"y":0.95},{"x0":0.2141,"x1":0.2173,"y":0.72},{"x0":0.2173,"x1":0.2205,"y":0.79},{"x0":0.2206,"x1":0.2238,"y":0.63},{"x0":0.2239,"x1":0.2271,"y":0.72},{"x0":0.2271,"x1":0.2303,"y":0.53},{"x0":0.2304,"x1":0.2336,"y":0.63},{"x0":0.2337,"x1":0.2369,"y":0.53},{"x0":0.2370,"x1":0.2402,"y":0.72},{"x0":0.2402,"x1":0.2434,"y":0.53},{"x0":0.2435,"x1":0.2467,"y":0.46},{"x0":0.2468,"x1":0.2500,"y":0.63},{"x0":0.2500,"x1":0.2532,"y":0.53},{"x0":0.2533,"x1":0.2565,"y":0.46},{"x0":0.2566,"x1":0.2598,"y":0.56},{"x0":0.2599,"x1":0.2631,"y":0.46},{"x0":0.2631,"x1":0.2663,"y":0.63},{"x0":0.2664,"x1":0.2696,"y":0.36},{"x0":0.2697,"x1":0.2729,"y":0.46},{"x0":0.2730,"x1":0.2762,"y":0.30},{"x0":0.2762,"x1":0.2794,"y":0.69},{"x0":0.2795,"x1":0.2827,"y":0.46},{"x0":0.2828,"x1":0.2860,"y":0.30},{"x0":0.2860,"x1":0.2892,"y":0.53},{"x0":0.2893,"x1":0.2925,"y":0.33},{"x0":0.2926,"x1":0.2958,"y":0.39},{"x0":0.2959,"x1":0.2991,"y":0.30},{"x0":0.2991,"x1":0.3023,"y":0.23},{"x0":0.3024,"x1":0.3056,"y":0.30},{"x0":0.3057,"x1":0.3089,"y":0.39},{"x0":0.3090,"x1":0.3122,"y":0.23},{"x0":0.3122,"x1":0.3154,"y":0.20},{"x0":0.3155,"x1":0.3187,"y":0.53},{"x0":0.3188,"x1":0.3220,"y":0.20},{"x0":0.3220,"x1":0.3252,"y":0.30},{"x0":0.3253,"x1":0.3285,"y":0.23},{"x0":0.3286,"x1":0.3318,"y":0.16},{"x0":0.3319,"x1":0.3351,"y":0.20},{"x0":0.3384,"x1":0.3416,"y":0.30},{"x0":0.3449,"x1":0.3481,"y":0.20},{"x0":0.3515,"x1":0.3547,"y":0.16},{"x0":0.3580,"x1":0.3612,"y":0.13},{"x0":0.3657,"x1":0.3689,"y":0.20},{"x0":0.3722,"x1":0.3754,"y":0.16},{"x0":0.3787,"x1":0.3819,"y":0.13},{"x0":0.3853,"x1":0.3885,"y":0.10},{"x0":0.3918,"x1":0.3950,"y":0.13},{"x0":0.3984,"x1":0.4016,"y":0.30},{"x0":0.4016,"x1":0.4048,"y":0.20},{"x0":0.4049,"x1":0.4081,"y":0.13},{"x0":0.4093,"x1":0.4125,"y":0.20},{"x0":0.4159,"x1":0.4191,"y":0.13},{"x0":0.4224,"x1":0.4256,"y":0.10},{"x0":0.4289,"x1":0.4321,"y":0.10},{"x0":0.4529,"x1":0.4561,"y":0.20},{"x0":0.4583,"x1":0.4615,"y":0.13},{"x0":0.4834,"x1":0.4866,"y":0.10},{"x0":0.4911,"x1":0.4943,"y":0.10},{"x0":0.4987,"x1":0.5019,"y":0.10},{"x0":0.5238,"x1":0.5270,"y":0.10},{"x0":0.5424,"x1":0.5456,"y":0.10}
    ]
  },
  "concat": [
    {"width": 261, "height": 125, "data": {"name": "c0"}, "mark": {"type": "bar", "strokeWidth": 0.4},
     "encoding": {
       "x": {"field": "x0", "type": "quantitative", "scale": {"domain": [-0.696, 0.764], "nice": false, "zero": false, "padding": 0}, "axis": {"title": "backbone.conv0.weight", "values": [-0.5, -0.25, 0, 0.25, 0.5, 0.75], "format": ".2f"}},
       "x2": {"field": "x1"},
       "y": {"field": "y", "type": "quantitative", "scale": {"domain": [0, 6.99], "nice": false, "padding": 0}, "axis": {"title": "density", "values": [0, 2, 4, 6]}},
       "y2": {"datum": 0}}},
    {"width": 261, "height": 125, "data": {"name": "c1"}, "mark": {"type": "bar"},
     "encoding": {
       "x": {"field": "x0", "type": "quantitative", "scale": {"domain": [-0.282, 0.302], "nice": false, "zero": false, "padding": 0}, "axis": {"title": "backbone.conv1.weight", "values": [-0.2, -0.1, 0, 0.1, 0.2, 0.3], "format": ".1f"}},
       "x2": {"field": "x1"},
       "y": {"field": "y", "type": "quantitative", "scale": {"domain": [0, 27.5], "nice": false, "padding": 0}, "axis": {"title": "density", "values": [0, 10, 20]}},
       "y2": {"datum": 0}}},
    {"width": 261, "height": 125, "data": {"name": "c2"}, "mark": {"type": "bar"},
     "encoding": {
       "x": {"field": "x0", "type": "quantitative", "scale": {"domain": [-0.1262, 0.1673], "nice": false, "zero": false, "padding": 0}, "axis": {"title": "backbone.conv2.weight", "values": [-0.1, -0.05, 0, 0.05, 0.1, 0.15], "format": ".2f"}},
       "x2": {"field": "x1"},
       "y": {"field": "y", "type": "quantitative", "scale": {"domain": [0, 33.07], "nice": false, "padding": 0}, "axis": {"title": "density", "values": [0, 10, 20, 30]}},
       "y2": {"datum": 0}}},
    {"width": 261, "height": 125, "data": {"name": "c3"}, "mark": {"type": "bar"},
     "encoding": {
       "x": {"field": "x0", "type": "quantitative", "scale": {"domain": [-0.0989, 0.1252], "nice": false, "zero": false, "padding": 0}, "axis": {"title": "backbone.conv3.weight", "values": [-0.05, 0, 0.05, 0.1], "format": ".2f"}},
       "x2": {"field": "x1"},
       "y": {"field": "y", "type": "quantitative", "scale": {"domain": [0, 41.5], "nice": false, "padding": 0}, "axis": {"title": "density", "values": [0, 20, 40]}},
       "y2": {"datum": 0}}},
    {"width": 261, "height": 125, "data": {"name": "c4"}, "mark": {"type": "bar"},
     "encoding": {
       "x": {"field": "x0", "type": "quantitative", "scale": {"domain": [-0.0857, 0.1244], "nice": false, "zero": false, "padding": 0}, "axis": {"title": "backbone.conv4.weight", "values": [-0.05, 0, 0.05, 0.1], "format": ".2f"}},
       "x2": {"field": "x1"},
       "y": {"field": "y", "type": "quantitative", "scale": {"domain": [0, 43.9], "nice": false, "padding": 0}, "axis": {"title": "density", "values": [0, 20, 40]}},
       "y2": {"datum": 0}}},
    {"width": 261, "height": 125, "data": {"name": "c5"}, "mark": {"type": "bar"},
     "encoding": {
       "x": {"field": "x0", "type": "quantitative", "scale": {"domain": [-0.0701, 0.094], "nice": false, "zero": false, "padding": 0}, "axis": {"title": "backbone.conv5.weight", "values": [-0.05, 0, 0.05], "format": ".2f"}},
       "x2": {"field": "x1"},
       "y": {"field": "y", "type": "quantitative", "scale": {"domain": [0, 53], "nice": false, "padding": 0}, "axis": {"title": "density", "values": [0, 20, 40]}},
       "y2": {"datum": 0}}},
    {"width": 261, "height": 125, "data": {"name": "c6"}, "mark": {"type": "bar"},
     "encoding": {
       "x": {"field": "x0", "type": "quantitative", "scale": {"domain": [-0.0577, 0.0722], "nice": false, "zero": false, "padding": 0}, "axis": {"title": "backbone.conv6.weight", "values": [-0.05, -0.025, 0, 0.025, 0.05], "format": ".3f"}},
       "x2": {"field": "x1"},
       "y": {"field": "y", "type": "quantitative", "scale": {"domain": [0, 74.6], "nice": false, "padding": 0}, "axis": {"title": "density", "values": [0, 20, 40, 60]}},
       "y2": {"datum": 0}}},
    {"width": 261, "height": 125, "data": {"name": "c7"}, "mark": {"type": "bar"},
     "encoding": {
       "x": {"field": "x0", "type": "quantitative", "scale": {"domain": [-0.0434, 0.0631], "nice": false, "zero": false, "padding": 0}, "axis": {"title": "backbone.conv7.weight", "values": [-0.04, -0.02, 0, 0.02, 0.04, 0.06], "format": ".2f"}},
       "x2": {"field": "x1"},
       "y": {"field": "y", "type": "quantitative", "scale": {"domain": [0, 129.5], "nice": false, "padding": 0}, "axis": {"title": "density", "values": [0, 50, 100]}},
       "y2": {"datum": 0}}},
    {"width": 261, "height": 125,
     "layer": [
       {"data": {"name": "cl"}, "mark": {"type": "bar", "strokeWidth": 0.4},
        "encoding": {
          "x": {"field": "x0", "type": "quantitative", "scale": {"domain": [-0.2677, 0.5877], "nice": false, "zero": false, "padding": 0}, "axis": {"title": "classifier.weight", "values": [-0.2, 0, 0.2, 0.4], "format": ".1f"}},
          "x2": {"field": "x1"},
          "y": {"field": "y", "type": "quantitative", "scale": {"domain": [0, 12.3], "nice": false, "padding": 0}, "axis": {"title": "density", "values": [0, 5, 10]}},
          "y2": {"datum": 0}}},
       {"data": {"values": [{"label": "CSDN @卷心菜不卷Iris"}]},
        "mark": {"type": "text", "font": "Noto Sans CJK SC", "fontSize": 18.5, "color": "#a0a0a0", "opacity": 0.75, "align": "center", "baseline": "middle", "stroke": "white", "strokeWidth": 0.6, "strokeOpacity": 0.8},
        "encoding": {"x": {"datum": 0.242}, "y": {"datum": -3.15}, "text": {"field": "label"}}}
     ]}
  ],
  "config": {
    "font": "DejaVu Sans",
    "view": {"stroke": "#000000", "strokeWidth": 1},
    "bar": {"color": "#8D74F4", "stroke": "#8D74F4", "strokeWidth": 1},
    "scale": {"continuousPadding": 0},
    "axis": {"grid": false, "domain": false, "tickColor": "#000000", "tickSize": 5, "tickWidth": 1, "labelFont": "DejaVu Sans", "labelFontSize": 13.9, "labelColor": "#000000", "labelPadding": 3, "labelFlush": false, "labelOverlap": false, "labelBound": false, "titleFont": "DejaVu Sans", "titleFontSize": 13.9, "titleFontWeight": "normal", "titleColor": "#000000", "titlePadding": 5},
    "axisX": {"labelPadding": 6.5, "titlePadding": 4.5},
    "axisY": {"labelPadding": 5.5, "titlePadding": 6.5}
  }
}
